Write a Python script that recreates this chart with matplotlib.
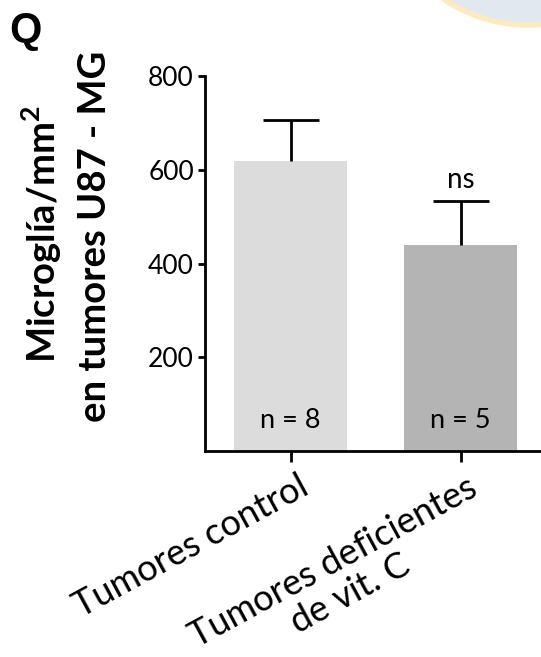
import matplotlib
matplotlib.use("Agg")
import matplotlib.pyplot as plt
from matplotlib.patches import Ellipse
from matplotlib.transforms import ScaledTranslation

# Data
categories = ["Tumores control", "Tumores deficientes\nde vit. C"]
means = [618, 440]
sems = [88, 94]
n_labels = ["n = 8", "n = 5"]
bar_colors = ["#dcdcdc", "#b4b4b4"]
yticks = [200, 400, 600, 800]

W, H = 541, 657
DPI = 100
plt.rcParams["font.family"] = ["Lato", "DejaVu Sans"]
plt.rcParams["mathtext.fontset"] = "custom"
plt.rcParams["mathtext.rm"] = "Lato:bold"
plt.rcParams["mathtext.bf"] = "Lato:bold"

fig = plt.figure(figsize=(W / DPI, H / DPI), dpi=DPI)

# faint logo disc in the top-right corner
logo = Ellipse((528 / W, 1 + 125 / H), 2 * 150 / W, 2 * 150 / H,
               transform=fig.transFigure, facecolor="#e2e8f0",
               edgecolor="#fcebc0", linewidth=4, zorder=0)
fig.patches.append(logo)

ax = fig.add_axes([205 / W, (H - 451) / H, (W - 205) / W, (451 - 76) / H])
ax.set_facecolor("none")

x = list(range(len(categories)))
ax.bar(x, means, width=0.665, color=bar_colors, zorder=2)

# one-sided (upper) SEM whiskers
lw = 2.0
cap = 0.165
tops = [m + s for m, s in zip(means, sems)]
ax.vlines(x, means, tops, color="black", lw=lw, zorder=3)
ax.hlines(tops, [xi - cap for xi in x], [xi + cap for xi in x],
          color="black", lw=lw, zorder=3)

ax.set_xlim(-0.503, 1.472)
ax.set_ylim(0, 800)
ax.set_yticks(yticks)
ax.set_yticklabels([str(v) for v in yticks], fontsize=19)

for s in ["top", "right"]:
    ax.spines[s].set_visible(False)
for s in ["left", "bottom"]:
    ax.spines[s].set_linewidth(lw)
ax.tick_params(axis="y", direction="out", length=5, width=lw, pad=3)
ax.tick_params(axis="x", direction="out", length=8, width=lw, pad=8)

ax.set_xticks(x)
ax.set_xticklabels(categories, rotation=28.5, ha="right", va="top",
                   rotation_mode="anchor", fontsize=26, multialignment="center",
                   linespacing=1.1)
offsets = [(7, 4), (6, 2)]
for lab, (dx, dy) in zip(ax.get_xticklabels(), offsets):
    lab.set_transform(lab.get_transform() + ScaledTranslation(dx / DPI, dy / DPI, fig.dpi_scale_trans))

# sample sizes inside bars
for xi, t in zip(x, n_labels):
    ax.text(xi, 50, t, ha="center", va="baseline", fontsize=19.5, zorder=4)

# significance label
ax.text(1, tops[1] + 28, "ns", ha="center", va="baseline", fontsize=20)

# y-axis title (two lines)
fig.text(56 / W, (H - 234) / H, "Microglía/mm$^{2}$", rotation=90,
         rotation_mode="anchor", ha="center", va="baseline",
         fontsize=27.5, fontweight="bold")
fig.text(106 / W, (H - 236) / H, "en tumores U87 - MG", rotation=90,
         rotation_mode="anchor", ha="center", va="baseline",
         fontsize=27.5, fontweight="bold")

# panel letter
fig.text(9 / W, 1 - 42 / H, "Q", ha="left", va="baseline",
         fontsize=30, fontweight="bold", family="Liberation Sans")

fig.savefig("out.png", dpi=DPI)
